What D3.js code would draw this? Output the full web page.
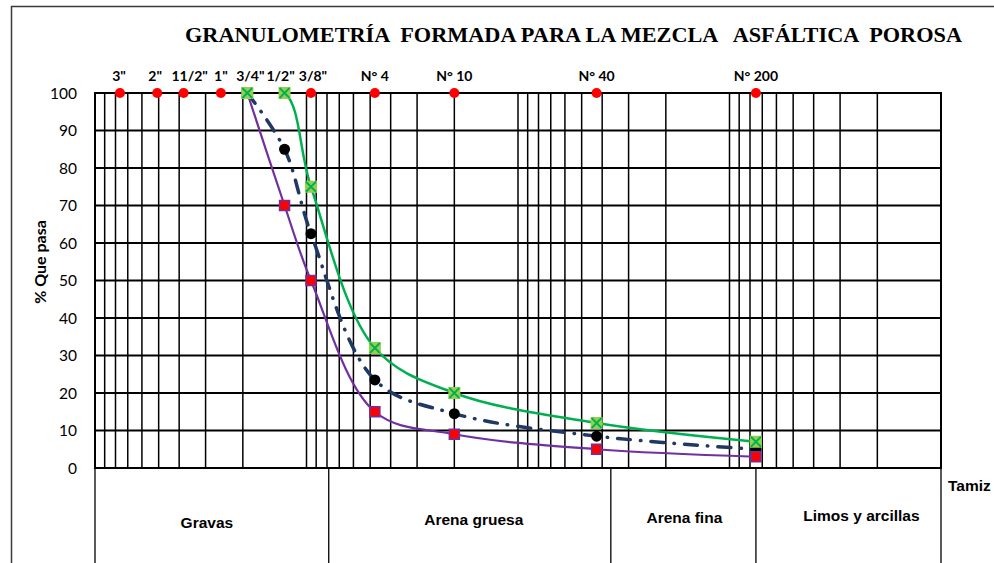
<!DOCTYPE html>
<html>
<head>
<meta charset="utf-8">
<script src="https://cdn.jsdelivr.net/npm/d3@7/dist/d3.min.js"></script>
<style>
  html, body { margin: 0; padding: 0; background: #fff; }
  svg { display: block; }
</style>
</head>
<body>
<svg id="chart" width="994" height="563"></svg>
<script>
// Sieves (name and opening in mm)
const sieveLabels = ['3"', '2"', '11/2"', '1"', '3/4"', '1/2"', '3/8"', 'N° 4', 'N° 10', 'N° 40', 'N° 200'];
const sieveSizes  = [76.2, 50.8, 38.1, 25.4, 19.05, 12.7, 9.525, 4.75, 2.0, 0.425, 0.075];

// Sieves used by the gradation band
const bandSizes = [19.05, 12.7, 9.525, 4.75, 2.0, 0.425, 0.075];
const upperLimit = [100, 100, 75, 32, 20, 12, 7];      // green curve
const lowerLimit = [100, 70, 50, 15, 9, 5, 3];          // purple curve
const mixPassing = [100, 85, 62.5, 23.5, 14.5, 8.5, 5]; // design gradation

const yTickValues = [0, 10, 20, 30, 40, 50, 60, 70, 80, 90, 100];

// Soil classes under the chart (boundaries in mm)
const soilClasses = ["Gravas", "Arena gruesa", "Arena fina", "Limos y arcillas"];
const soilBounds  = [100, 7.85, 0.364, 0.075, 0.01];

const svg = d3.select("#chart");
const pLeft = 95, pRight = 941, pTop = 93, pBottom = 468;

// label nudges (px) so crowded sieve names stay readable
const sieveLabelNudge = [-1, -2, 6, 0, 3, -4, 2, 0, 0, 0, 0];
const soilLabelNudge = [-5, 4, 1, 13];
const soilLabelY = [528, 525, 523, 521];

const x = d3.scaleLog().domain([100, 0.01]).range([pLeft, pRight]);
const y = d3.scaleLinear().domain([0, 100]).range([pBottom, pTop]);

// clip region for the curves (plot area)
svg.append("defs").append("clipPath").attr("id", "plotClip")
  .append("rect").attr("x", pLeft).attr("y", pTop)
  .attr("width", pRight - pLeft).attr("height", pBottom - pTop);

// outer frame
svg.append("rect").attr("x", 11.5).attr("y", 6.5).attr("width", 1000).attr("height", 600)
  .attr("fill", "none").attr("stroke", "#3a3a3a").attr("stroke-width", 1.5);

// title
svg.append("text")
  .attr("x", 185).attr("y", 42)
  .attr("textLength", 777).attr("lengthAdjust", "spacingAndGlyphs")
  .style("white-space", "pre")
  .attr("font-family", "'Liberation Serif', 'Times New Roman', serif")
  .attr("font-weight", "bold").attr("font-size", 20).attr("fill", "#000")
  .text("GRANULOMETRÍA  FORMADA PARA LA MEZCLA   ASFÁLTICA  POROSA");

// vertical log grid
const g = svg.append("g");
g.selectAll("line.vx").data(x.ticks()).join("line")
  .attr("class", "vx")
  .attr("x1", d => x(d)).attr("x2", d => x(d))
  .attr("y1", pTop).attr("y2", pBottom)
  .attr("stroke", "#000").attr("stroke-width", 1.5);

// horizontal grid
g.selectAll("line.hy").data(yTickValues).join("line")
  .attr("class", "hy")
  .attr("x1", pLeft).attr("x2", pRight)
  .attr("y1", d => y(d)).attr("y2", d => y(d))
  .attr("stroke", "#000").attr("stroke-width", 1.9);

// plot border
svg.append("rect").attr("x", pLeft).attr("y", pTop)
  .attr("width", pRight - pLeft).attr("height", pBottom - pTop)
  .attr("fill", "none").attr("stroke", "#000").attr("stroke-width", 2);

// y tick labels
svg.selectAll("text.yt").data(yTickValues).join("text")
  .attr("class", "yt")
  .attr("x", 77).attr("y", d => y(d) + 5.5)
  .attr("text-anchor", "end")
  .attr("font-family", "Lato, 'Noto Sans', sans-serif")
  .attr("font-size", 15.5).attr("fill", "#000")
  .text(d => d);

// y title
svg.append("text")
  .attr("transform", "translate(46,262) rotate(-90)")
  .attr("text-anchor", "middle")
  .attr("font-family", "Lato, 'Noto Sans', sans-serif")
  .attr("font-weight", "bold").attr("font-size", 16).attr("fill", "#000")
  .text("% Que pasa");

// soil class table below the plot
const tbl = svg.append("g");
const tblBottom = 580;
tbl.selectAll("line.tb").data(soilBounds).join("line")
  .attr("class", "tb")
  .attr("x1", d => x(d)).attr("x2", d => x(d))
  .attr("y1", pBottom).attr("y2", tblBottom)
  .attr("stroke", "#000").attr("stroke-width", 1.3);
tbl.selectAll("text.sc").data(soilClasses).join("text")
  .attr("class", "sc")
  .attr("x", (d, i) => (x(soilBounds[i]) + x(soilBounds[i + 1])) / 2 + soilLabelNudge[i])
  .attr("y", (d, i) => soilLabelY[i])
  .attr("text-anchor", "middle")
  .attr("font-family", "'Liberation Sans Narrow', 'Arial Narrow', 'Liberation Sans', Arial, sans-serif")
  .attr("font-weight", "bold").attr("font-size", 15.5).attr("fill", "#000")
  .text(d => d);

svg.append("text")
  .attr("x", 948).attr("y", 491)
  .attr("font-family", "'Liberation Sans Narrow', 'Arial Narrow', 'Liberation Sans', Arial, sans-serif")
  .attr("font-weight", "bold").attr("font-size", 15.5).attr("fill", "#000")
  .text("Tamiz");

// sieve markers and names on the top edge
const sieves = sieveSizes.map((s, i) => ({ s, label: sieveLabels[i], nudge: sieveLabelNudge[i] }));
svg.selectAll("circle.sv").data(sieves).join("circle")
  .attr("class", "sv")
  .attr("cx", d => x(d.s)).attr("cy", pTop).attr("r", 5)
  .attr("fill", "#ff0000");
svg.selectAll("text.sv").data(sieves).join("text")
  .attr("class", "sv")
  .attr("x", d => x(d.s) + d.nudge).attr("y", 81)
  .attr("text-anchor", "middle")
  .attr("font-family", "Lato, 'Noto Sans', sans-serif")
  .attr("font-weight", "bold").attr("font-size", 14).attr("fill", "#000")
  .text(d => d.label);

// gradation curves
const curve = d3.curveCatmullRom.alpha(0.5);
const line = d3.line().x(d => x(d[0])).y(d => y(d[1])).curve(curve);
const pts = vals => bandSizes.map((s, i) => [s, vals[i]]);

// design mix
svg.append("path").datum(pts(mixPassing))
  .attr("clip-path", "url(#plotClip)")
  .attr("d", line).attr("fill", "none")
  .attr("stroke", "#1f3864").attr("stroke-width", 3.5)
  .attr("stroke-linecap", "round")
  .attr("stroke-dasharray", "13,10,0.5,10");
svg.selectAll("circle.mix").data(pts(mixPassing)).join("circle")
  .attr("class", "mix")
  .attr("cx", d => x(d[0])).attr("cy", d => y(d[1])).attr("r", 5.5)
  .attr("fill", "#000");

// lower limit
svg.append("path").datum(pts(lowerLimit))
  .attr("clip-path", "url(#plotClip)")
  .attr("d", line).attr("fill", "none")
  .attr("stroke", "#7030a0").attr("stroke-width", 2.2);
svg.selectAll("rect.lo").data(pts(lowerLimit)).join("rect")
  .attr("class", "lo")
  .attr("x", d => x(d[0]) - 5).attr("y", d => y(d[1]) - 5)
  .attr("width", 10).attr("height", 10)
  .attr("fill", "#ff0000").attr("stroke", "#7030a0").attr("stroke-width", 1.5);

// upper limit
svg.append("path").datum(pts(upperLimit))
  .attr("clip-path", "url(#plotClip)")
  .attr("d", line).attr("fill", "none")
  .attr("stroke", "#00b050").attr("stroke-width", 2.5);
const up = svg.selectAll("g.up").data(pts(upperLimit)).join("g")
  .attr("class", "up")
  .attr("transform", d => `translate(${x(d[0])},${y(d[1])})`);
up.append("rect").attr("x", -6).attr("y", -6).attr("width", 12).attr("height", 12)
  .attr("fill", "#92d050");
up.append("path").attr("d", "M-5,-5L5,5M-5,5L5,-5")
  .attr("stroke", "#00b050").attr("stroke-width", 1.8);
</script>
</body>
</html>
